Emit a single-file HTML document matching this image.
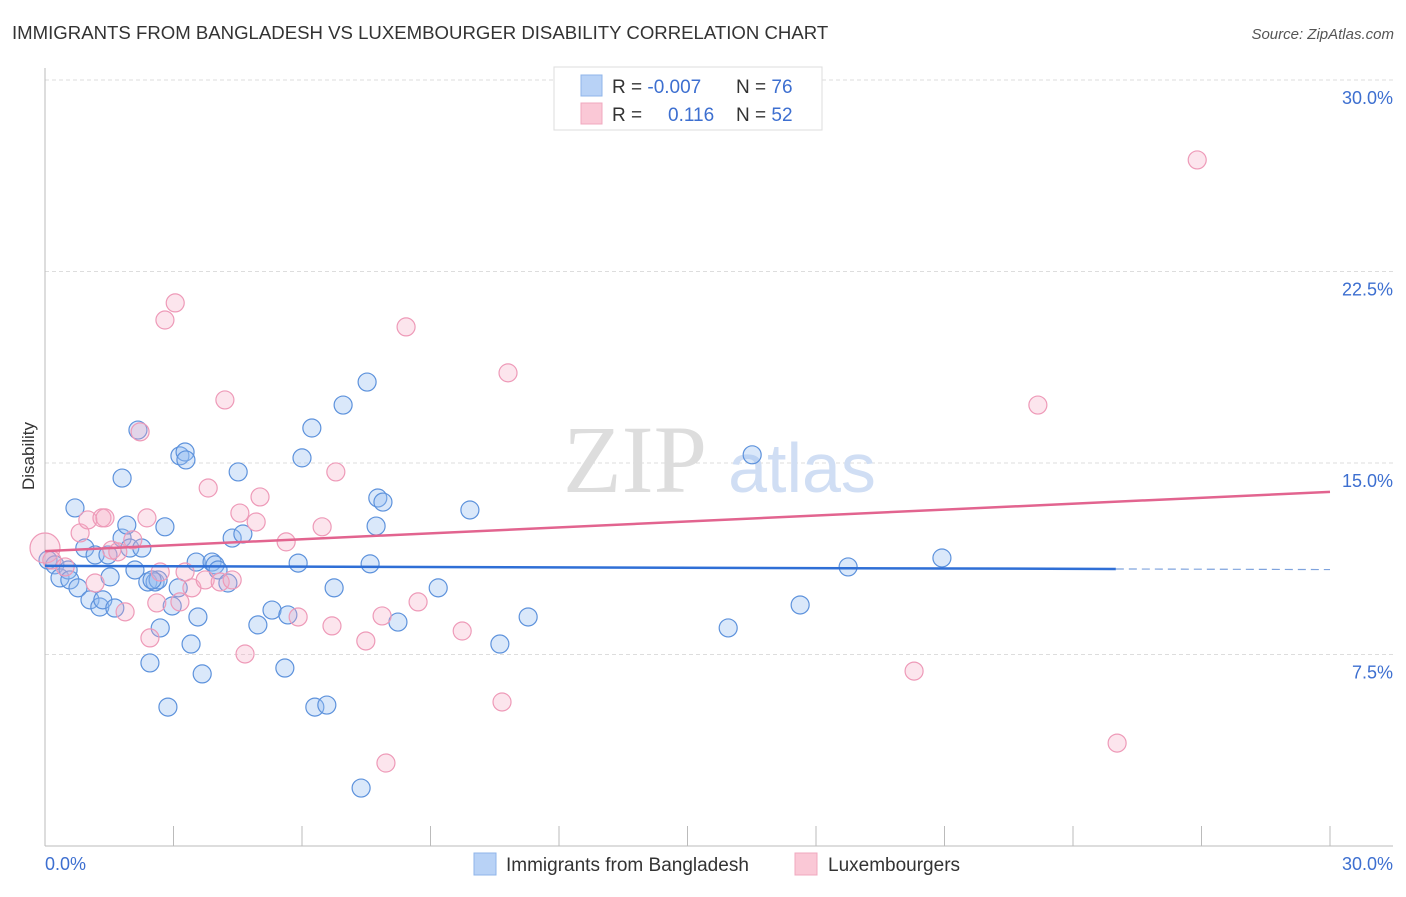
<!DOCTYPE html>
<html><head><meta charset="utf-8"><style>
body{margin:0;background:#fff;font-family:"Liberation Sans",sans-serif}
</style></head><body>
<svg width="1406" height="892" viewBox="0 0 1406 892" xmlns="http://www.w3.org/2000/svg" font-family="Liberation Sans, sans-serif">
<text x="12" y="39" font-size="18.6" fill="#333">IMMIGRANTS FROM BANGLADESH VS LUXEMBOURGER DISABILITY CORRELATION CHART</text>
<text x="1394" y="39" font-size="15" fill="#555" font-style="italic" text-anchor="end">Source: ZipAtlas.com</text>
<g id="grid"></g>
<text x="635" y="492" font-size="96" fill="#ddd" font-family="Liberation Serif, serif" text-anchor="middle">ZIP</text>
<text x="802" y="492" font-size="70" fill="#d0def4" text-anchor="middle">atlas</text>
<line x1="45" y1="68" x2="45" y2="846" stroke="#bbb"/>
<line x1="45" y1="846" x2="1393" y2="846" stroke="#bbb"/>
<text transform="translate(34,456) rotate(-90)" font-size="17" fill="#333" text-anchor="middle">Disability</text>
<text x="45" y="870" font-size="18" fill="#3d6fd0">0.0%</text>
<text x="1393" y="870" font-size="18" fill="#3d6fd0" text-anchor="end">30.0%</text>
<g id="pts"></g>
<g id="trends"></g>
<g>
<rect x="554" y="67" width="268" height="63" fill="#fff" stroke="#ddd"/>
<rect x="581" y="75" width="21" height="21" fill="#b8d2f6" stroke="#8fb4ea"/>
<rect x="581" y="103" width="21" height="21" fill="#fac8d6" stroke="#f0a8bf"/>
<text x="612" y="93" font-size="19" fill="#333">R = <tspan fill="#3d6fd0">-0.007</tspan><tspan x="736">N = </tspan><tspan fill="#3d6fd0">76</tspan></text>
<text x="612" y="121" font-size="19" fill="#333">R = <tspan x="668" fill="#3d6fd0">0.116</tspan><tspan x="736">N = </tspan><tspan fill="#3d6fd0">52</tspan></text>
</g>
<g>
<rect x="474" y="853" width="22" height="22" fill="#b8d2f6" stroke="#8fb4ea"/>
<text x="506" y="871" font-size="19" fill="#333">Immigrants from Bangladesh</text>
<rect x="795" y="853" width="22" height="22" fill="#fac8d6" stroke="#f0a8bf"/>
<text x="828" y="871" font-size="19" fill="#333">Luxembourgers</text>
</g>
</svg>
<script>
const yTicks=[7.5,15,22.5,30];
const yTickLabels=["7.5%","15.0%","22.5%","30.0%"];
const xTicks=[0,3,6,9,12,15,18,21,24,27,30];
const blueX=[0.07,0.23,0.35,0.54,0.58,0.70,0.77,0.93,1.05,1.17,1.28,1.35,1.47,1.52,1.63,1.80,1.80,1.91,1.98,2.10,2.17,2.26,2.40,2.45,2.57,2.64,2.69,2.80,2.87,2.97,3.11,3.15,3.27,3.29,3.41,3.57,3.53,3.67,3.90,3.97,4.04,4.27,4.37,4.51,4.62,4.97,5.30,5.60,5.67,5.91,6.00,6.23,6.30,6.58,6.75,6.96,7.52,7.59,7.73,7.77,7.89,8.24,9.18,9.92,10.62,11.28,15.95,16.51,17.63,18.75,20.94,7.38,2.50];
const blueY=[11.20,11.01,10.50,10.81,10.42,13.24,10.11,11.67,9.64,11.40,9.36,9.64,11.40,10.54,9.32,14.41,12.06,12.57,11.67,10.81,16.29,11.67,10.34,7.17,10.34,10.42,8.54,12.50,5.44,9.40,10.11,15.28,15.43,15.12,7.91,8.97,11.12,6.74,11.12,11.01,10.81,10.30,12.06,14.65,12.22,8.66,9.24,6.97,9.05,11.08,15.20,16.37,5.44,5.52,10.11,17.27,18.17,11.05,12.53,13.63,13.47,8.77,10.11,13.16,7.91,8.97,8.54,15.32,9.44,10.93,11.28,2.27,10.42];
const pinkX=[0,0.16,0.47,0.82,1.00,1.17,1.33,1.40,1.56,1.70,1.87,2.05,2.22,2.38,2.45,2.61,2.69,2.80,3.04,3.15,3.27,3.43,3.74,3.81,4.09,4.20,4.37,4.55,4.67,4.93,5.02,5.63,5.91,6.47,6.70,6.79,7.49,7.87,7.96,8.43,8.71,9.74,10.67,10.81,20.29,23.18,25.03,26.90];
const pinkY=[11.67,11.20,10.93,12.26,12.77,10.30,12.85,12.85,11.59,11.52,9.17,11.99,16.22,12.85,8.15,9.52,10.73,20.60,21.27,9.56,10.73,10.11,10.42,14.02,10.34,17.47,10.42,13.04,7.52,12.69,13.67,11.91,8.97,12.50,8.62,14.65,8.03,9.01,3.25,20.33,9.56,8.42,5.64,18.53,6.85,17.27,4.03,26.87];
const blueTrend=[10.97,10.85];
const pinkTrend=[11.55,13.87];
const NS="http://www.w3.org/2000/svg";
const sx=v=>45+v*(1285/30), sy=v=>846-v*(766/30);
function mk(t,a,p){const e=document.createElementNS(NS,t);for(const k in a)e.setAttribute(k,a[k]);p.appendChild(e);return e;}
const grid=document.getElementById('grid');
yTicks.forEach((t,i)=>{
 const l=mk('line',{x1:45,x2:1393,y1:sy(t),y2:sy(t),stroke:'#ddd','stroke-dasharray':'4,3'},grid);
 
 
 const tx=mk('text',{x:1393,y:sy(t)+24,'font-size':18,fill:'#3d6fd0','text-anchor':'end'},grid);
 tx.textContent=yTickLabels[i];
 
 
});
xTicks.forEach(t=>{
 const l=mk('line',{x1:sx(t),x2:sx(t),y1:826,y2:846,stroke:'#bbb'},grid);
 
 
});
const pts=document.getElementById('pts');
blueX.forEach((x,i)=>{
 const c=mk('circle',{cx:sx(x),cy:sy(blueY[i]),r:9,fill:'rgba(150,190,240,0.35)',stroke:'#5d92dc','stroke-width':1.2},pts);
 
 
});
pinkX.forEach((x,i)=>{
 const c=mk('circle',{cx:sx(x),cy:sy(pinkY[i]),r:i==0?15:9,fill:'rgba(245,170,195,0.3)',stroke:'#ee9ab8','stroke-width':1.2},pts);
 
 
});
const tr=document.getElementById('trends');
const b1=mk('line',{x1:sx(0),y1:sy(blueTrend[0]),x2:sx(25),y2:sy(blueTrend[1]),stroke:'#2f6fd6','stroke-width':2.5},tr);


const slope=(blueTrend[1]-blueTrend[0])/25;
const b2=mk('line',{x1:sx(25),y1:sy(blueTrend[1]),x2:sx(30),y2:sy(blueTrend[0]+slope*30),stroke:'#7fa3dd','stroke-width':1.2,'stroke-dasharray':'8,5'},tr);


const p1=mk('line',{x1:sx(0),y1:sy(pinkTrend[0]),x2:sx(30),y2:sy(pinkTrend[1]),stroke:'#e2648f','stroke-width':2.5},tr);


</script>
</body></html>
